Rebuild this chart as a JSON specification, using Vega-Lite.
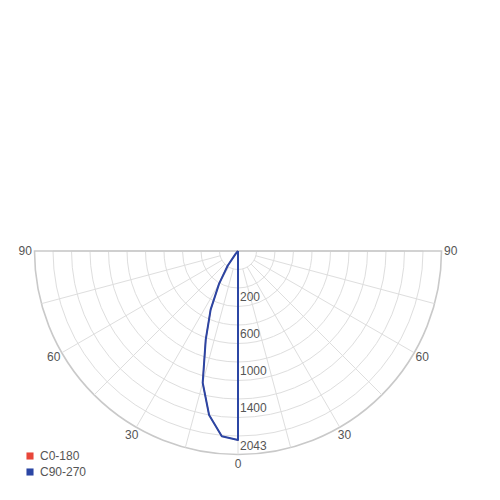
{
  "$schema": "https://vega.github.io/schema/vega-lite/v6.json",
  "width": 500,
  "height": 500,
  "autosize": "none",
  "padding": 0,
  "background": "white",
  "config": {
    "view": {"stroke": null},
    "text": {"font": "Liberation Sans", "fontSize": 12, "fill": "#555"}
  },
  "datasets": {
    "curve": [
      {"series": "C0-180", "angle": -90, "intensity": 0},
      {"series": "C0-180", "angle": -85, "intensity": 0},
      {"series": "C0-180", "angle": -80, "intensity": 0},
      {"series": "C0-180", "angle": -75, "intensity": 0},
      {"series": "C0-180", "angle": -70, "intensity": 0},
      {"series": "C0-180", "angle": -65, "intensity": 0},
      {"series": "C0-180", "angle": -60, "intensity": 0},
      {"series": "C0-180", "angle": -55, "intensity": 0},
      {"series": "C0-180", "angle": -50, "intensity": 0},
      {"series": "C0-180", "angle": -45, "intensity": 0},
      {"series": "C0-180", "angle": -40, "intensity": 40},
      {"series": "C0-180", "angle": -35, "intensity": 195},
      {"series": "C0-180", "angle": -30, "intensity": 410},
      {"series": "C0-180", "angle": -25, "intensity": 700},
      {"series": "C0-180", "angle": -20, "intensity": 1020},
      {"series": "C0-180", "angle": -15, "intensity": 1475},
      {"series": "C0-180", "angle": -10, "intensity": 1800},
      {"series": "C0-180", "angle": -5, "intensity": 2010},
      {"series": "C0-180", "angle": 0, "intensity": 2043},
      {"series": "C0-180", "angle": 90, "intensity": 0},
      {"series": "C90-270", "angle": -90, "intensity": 0},
      {"series": "C90-270", "angle": -85, "intensity": 0},
      {"series": "C90-270", "angle": -80, "intensity": 0},
      {"series": "C90-270", "angle": -75, "intensity": 0},
      {"series": "C90-270", "angle": -70, "intensity": 0},
      {"series": "C90-270", "angle": -65, "intensity": 0},
      {"series": "C90-270", "angle": -60, "intensity": 0},
      {"series": "C90-270", "angle": -55, "intensity": 0},
      {"series": "C90-270", "angle": -50, "intensity": 0},
      {"series": "C90-270", "angle": -45, "intensity": 0},
      {"series": "C90-270", "angle": -40, "intensity": 40},
      {"series": "C90-270", "angle": -35, "intensity": 195},
      {"series": "C90-270", "angle": -30, "intensity": 410},
      {"series": "C90-270", "angle": -25, "intensity": 700},
      {"series": "C90-270", "angle": -20, "intensity": 1020},
      {"series": "C90-270", "angle": -15, "intensity": 1475},
      {"series": "C90-270", "angle": -10, "intensity": 1800},
      {"series": "C90-270", "angle": -5, "intensity": 2010},
      {"series": "C90-270", "angle": 0, "intensity": 2043},
      {"series": "C90-270", "angle": 90, "intensity": 0}
    ],
    "rings": [
      {"ring": 200}, {"ring": 400}, {"ring": 600}, {"ring": 800},
      {"ring": 1000}, {"ring": 1200}, {"ring": 1400}, {"ring": 1600},
      {"ring": 1800}, {"ring": 2000}, {"ring": 2200}
    ],
    "spokes": [
      {"angle": -75}, {"angle": -60}, {"angle": -45}, {"angle": -30},
      {"angle": -15}, {"angle": 0}, {"angle": 15}, {"angle": 30},
      {"angle": 45}, {"angle": 60}, {"angle": 75}
    ],
    "angleLabels": [
      {"angle": -90, "label": "90"},
      {"angle": -60, "label": "60"},
      {"angle": -30, "label": "30"},
      {"angle": 0, "label": "0"},
      {"angle": 30, "label": "30"},
      {"angle": 60, "label": "60"},
      {"angle": 90, "label": "90"}
    ],
    "radialLabels": [
      {"value": 200}, {"value": 600}, {"value": 1000},
      {"value": 1400}, {"value": 2043}
    ]
  },
  "layer": [
    {
      "data": {"name": "rings"},
      "mark": {"type": "arc", "theta": 1.5708, "theta2": 4.7124, "filled": false},
      "encoding": {
        "x": {"datum": 0, "type": "quantitative", "scale": {"domain": [-2573, 2832.4], "range": [0, 500], "nice": false, "zero": false}, "axis": null},
        "y": {"datum": 0, "type": "quantitative", "scale": {"domain": [-2691.9, 2713.5], "nice": false, "zero": false}, "axis": null},
        "radius": {"field": "ring", "type": "quantitative", "stack": null, "scale": {"type": "linear", "domain": [0, 2200], "range": [0, 203.5], "zero": true, "nice": false}, "legend": null},
        "stroke": {"condition": {"test": "datum.ring == 2200", "value": "#c9c9c9"}, "value": "#dedede"},
        "strokeWidth": {"condition": {"test": "datum.ring == 2200", "value": 1.6}, "value": 1}
      }
    },
    {
      "data": {"name": "spokes"},
      "transform": [
        {"calculate": "datum.angle * PI / 180", "as": "rad"},
        {"calculate": "200 * sin(datum.rad)", "as": "x1"},
        {"calculate": "-200 * cos(datum.rad)", "as": "y1"},
        {"calculate": "2200 * sin(datum.rad)", "as": "x2"},
        {"calculate": "-2200 * cos(datum.rad)", "as": "y2"}
      ],
      "mark": {"type": "rule", "stroke": "#dedede", "strokeWidth": 1},
      "encoding": {
        "x": {"field": "x1", "type": "quantitative"},
        "y": {"field": "y1", "type": "quantitative"},
        "x2": {"field": "x2"},
        "y2": {"field": "y2"}
      }
    },
    {
      "data": {"name": "angleLabels"},
      "transform": [
        {"calculate": "datum.angle * PI / 180", "as": "rad"},
        {"calculate": "2300 * sin(datum.rad)", "as": "lx"},
        {"calculate": "-2300 * cos(datum.rad)", "as": "ly"}
      ],
      "mark": {"type": "text", "align": "center", "baseline": "middle"},
      "encoding": {
        "x": {"field": "lx", "type": "quantitative"},
        "y": {"field": "ly", "type": "quantitative"},
        "text": {"field": "label"}
      }
    },
    {
      "data": {"name": "radialLabels"},
      "transform": [
        {"filter": "datum.value < 2000"},
        {"calculate": "-datum.value", "as": "ly"}
      ],
      "mark": {"type": "text", "align": "left", "baseline": "middle", "dx": 2, "dy": 28},
      "encoding": {
        "x": {"datum": 0, "type": "quantitative"},
        "y": {"field": "ly", "type": "quantitative"},
        "text": {"field": "value"}
      }
    },
    {
      "data": {"name": "radialLabels"},
      "transform": [
        {"filter": "datum.value > 2000"},
        {"calculate": "-datum.value", "as": "ly"}
      ],
      "mark": {"type": "text", "align": "left", "baseline": "middle", "dx": 2, "dy": 6},
      "encoding": {
        "x": {"datum": 0, "type": "quantitative"},
        "y": {"field": "ly", "type": "quantitative"},
        "text": {"field": "value"}
      }
    },
    {
      "data": {"name": "curve"},
      "transform": [
        {"filter": "datum.series == 'C0-180'"},
        {"calculate": "datum.angle * PI / 180", "as": "rad"},
        {"calculate": "datum.intensity * sin(datum.rad)", "as": "px"},
        {"calculate": "-datum.intensity * cos(datum.rad)", "as": "py"}
      ],
      "mark": {"type": "line", "strokeWidth": 1.2, "strokeJoin": "round"},
      "encoding": {
        "x": {"field": "px", "type": "quantitative"},
        "y": {"field": "py", "type": "quantitative"},
        "order": {"field": "angle", "type": "quantitative"},
        "color": {
          "field": "series",
          "type": "nominal",
          "scale": {"domain": ["C0-180", "C90-270"], "range": ["#e8463a", "#2b46a4"]},
          "legend": {
            "orient": "none",
            "legendX": 24,
            "legendY": 450,
            "title": null,
            "symbolType": "square",
            "symbolSize": 50,
            "symbolStrokeWidth": 0,
            "labelFont": "Liberation Sans",
            "labelFontSize": 12,
            "labelColor": "#555",
            "rowPadding": 4,
            "encode": {"symbols": {"update": {"fill": {"scale": "color", "field": "value"}, "fillOpacity": {"value": 1}}}}
          }
        }
      }
    },
    {
      "data": {"name": "curve"},
      "transform": [
        {"filter": "datum.series == 'C90-270'"},
        {"calculate": "datum.angle * PI / 180", "as": "rad"},
        {"calculate": "datum.intensity * sin(datum.rad)", "as": "px"},
        {"calculate": "-datum.intensity * cos(datum.rad)", "as": "py"}
      ],
      "mark": {"type": "line", "strokeWidth": 2, "strokeJoin": "round"},
      "encoding": {
        "x": {"field": "px", "type": "quantitative"},
        "y": {"field": "py", "type": "quantitative"},
        "order": {"field": "angle", "type": "quantitative"},
        "color": {"field": "series", "type": "nominal"}
      }
    }
  ]
}
